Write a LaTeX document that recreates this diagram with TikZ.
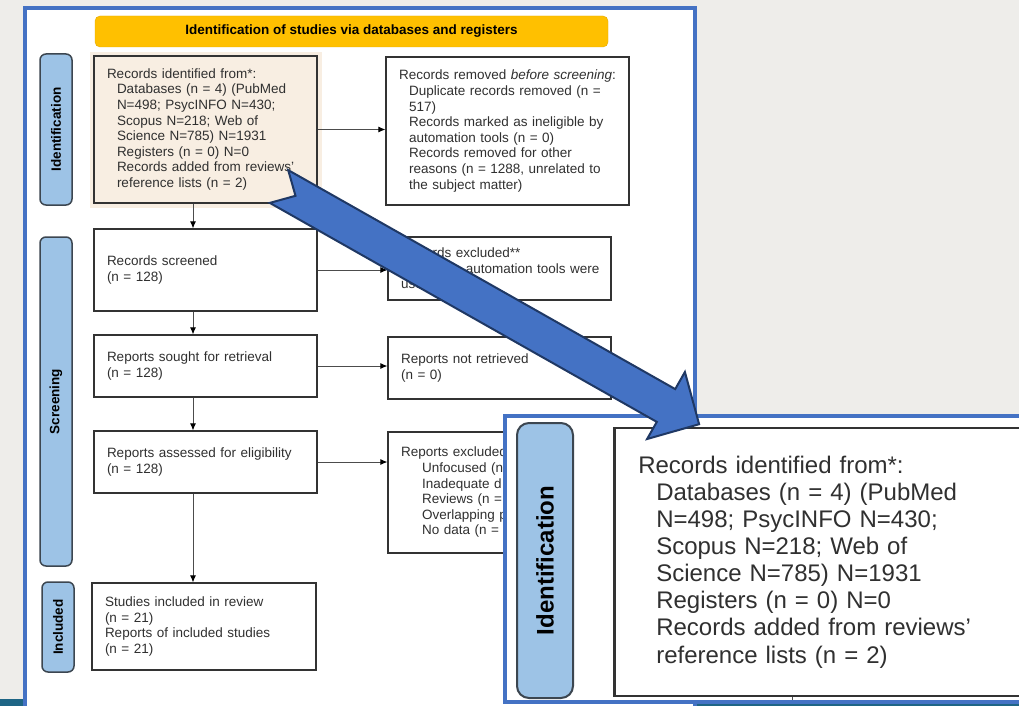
\documentclass[tikz,border=0pt]{standalone}
\usepackage{fontspec}
\setmainfont{Liberation Sans}
\usetikzlibrary{arrows.meta,positioning,calc}

\definecolor{slidebg}{HTML}{EEEDEA}
\definecolor{frameblue}{HTML}{4472C4}
\definecolor{arrownavy}{HTML}{1F3864}
\definecolor{headgold}{HTML}{FFC000}
\definecolor{headedge}{HTML}{E3A900}
\definecolor{phaseblue}{HTML}{9DC3E6}
\definecolor{phaseedge}{HTML}{3C4650}
\definecolor{idbeige}{HTML}{F8EEE2}
\definecolor{footteal}{HTML}{1E6585}
\definecolor{boxtext}{HTML}{303030}

\newcommand{\indt}{\hspace*{10pt}}
\newcommand{\indx}{\hspace*{21pt}}
\newcommand{\indz}{\hspace*{18pt}}

\begin{document}
\begin{tikzpicture}[x=1pt, y=-1pt,
  >={Latex[length=7pt,width=6pt,color=black]},
  every node/.style={text=boxtext},
  flowbox/.style={draw=black!80, line width=1.3pt, fill=white, inner xsep=13pt, inner ysep=0pt, align=left, font=\fontsize{13.5}{15.6}\selectfont},
  phase/.style={draw=phaseedge, line width=1.5pt, fill=phaseblue, rounded corners=6pt, inner sep=0pt, rotate=90, text=black, font=\bfseries\fontsize{13.5}{15}\selectfont},
  flow/.style={->, draw=black!70, line width=0.8pt}]
\useasboundingbox (0,0) rectangle (1019,706);
\fill[slidebg] (0,0) rectangle (1019,706);
\fill[footteal] (0,699) rectangle (1019,706);
\draw[frameblue, line width=4pt, fill=white] (24.5,8) rectangle (695,720);

% header and phases
\node[draw=headedge, fill=headgold, rounded corners=5pt, minimum width=513, minimum height=31, inner sep=0pt, text=black, font=\bfseries\fontsize{13.5}{15}\selectfont] (head) at (351.5,31.5) {Identification of studies via databases and registers};
\node[phase, minimum width=151, minimum height=32] (idlab) at (56,129.5) {Identification};
\node[phase, minimum width=329, minimum height=32] (scrlab) at (56,401.5) {Screening};
\node[phase, minimum width=90, minimum height=32] (inclab) at (58,627) {Included};

% boxes
\fill[idbeige] (90,52) rectangle (322,208);
\node[flowbox, fill=idbeige, text width=197, minimum height=147] (idrec) at (205.5,129.5) {Records identified from*:\\
\indt Databases (n = 4) (PubMed\\
\indt N=498; PsycINFO N=430;\\
\indt Scopus N=218; Web of\\
\indt Science N=785) N=1931\\
\indt Registers (n = 0) N=0\\
\indt Records added from reviews'\\
\indt reference lists (n = 2)};
\node[flowbox, text width=217, minimum height=148] (removed) at (507.5,131) {Records removed \textit{before screening}:\\
\indt Duplicate records removed (n =\\
\indt 517)\\
\indt Records marked as ineligible by\\
\indt automation tools (n = 0)\\
\indt Records removed for other\\
\indt reasons (n = 1288, unrelated to\\
\indt the subject matter)};
\node[flowbox, text width=197, minimum height=63] (excl) at (499.5,268.5) {Records excluded**\\\mbox{(n = 0) no automation tools were}\\used};
\node[flowbox, text width=197, minimum height=82] (screened) at (205.5,270) {Records screened\\(n = 128)};
\node[flowbox, text width=197, minimum height=62] (sought) at (205.5,366) {Reports sought for retrieval\\(n = 128)};
\node[flowbox, text width=197, minimum height=62] (notret) at (499.5,368) {Reports not retrieved\\(n = 0)};
\node[flowbox, text width=197, minimum height=62] (assessed) at (205.5,462) {Reports assessed for eligibility\\(n = 128)};
\node[flowbox, text width=197, minimum height=121] (rexcl) at (499.5,492.5) {Reports excluded:\\
\indx Unfocused (n\\
\indx Inadequate d\\
\indx Reviews (n =\\
\indx Overlapping p\\
\indx No data (n =\\[8pt]};
\node[flowbox, text width=198, minimum height=87] (included) at (204,626.5) {Studies included in review\\(n = 21)\\Reports of included studies\\(n = 21)};

% connectors
\coordinate (colx) at (193,0);
\draw[flow] (idrec.south -| colx) -- (screened.north -| colx);
\draw[flow] (screened.south -| colx) -- (sought.north -| colx);
\draw[flow] (sought.south -| colx) -- (assessed.north -| colx);
\draw[flow] (assessed.south -| colx) -- (included.north -| colx);
\draw[flow] (idrec.east) -- (idrec.east -| removed.west);
\draw[flow] (screened.east) -- (screened.east -| excl.west);
\draw[flow] (sought.east) -- (sought.east -| notret.west);
\draw[flow] (assessed.east) -- (assessed.east -| rexcl.west);

% zoomed inset
\draw[frameblue, line width=4pt, fill=white] (504.5,416) rectangle (1030,701.5);
\node[phase, minimum width=275, minimum height=56, rounded corners=12pt, line width=2pt, font=\bfseries\fontsize{24}{26}\selectfont] (zlab) at (545,560.5) {Identification};
\node[flowbox, line width=2.5pt, inner xsep=24pt, text width=379, minimum height=268, anchor=west, font=\fontsize{24}{27.1}\selectfont] (zrec) at (613,562) {Records identified from*:\\
\indz Databases (n = 4) (PubMed\\
\indz N=498; PsycINFO N=430;\\
\indz Scopus N=218; Web of\\
\indz Science N=785) N=1931\\
\indz Registers (n = 0) N=0\\
\indz Records added from reviews'\\
\indz reference lists (n = 2)};
\coordinate (ztick) at (792,700);
\draw[black!70, line width=1pt] (zrec.south -| ztick) -- (ztick);

% big pointer arrow
\draw[arrownavy, fill=frameblue, line width=2pt, line join=miter]
  (288.2,170.1) -- (675.2,389.1) -- (684.9,372) -- (699.1,424.2) -- (647.1,439)
  -- (656.8,421.9) -- (269.8,202.9) -- (295.5,195.8) -- cycle;
\end{tikzpicture}
\end{document}
